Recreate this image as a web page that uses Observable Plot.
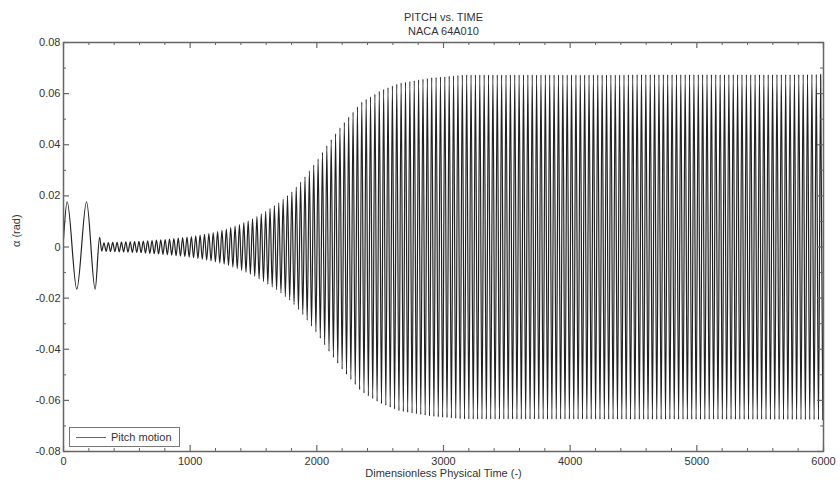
<!DOCTYPE html>
<html>
<head>
<meta charset="utf-8">
<script src="https://cdn.jsdelivr.net/npm/d3@7"></script>
<script src="https://cdn.jsdelivr.net/npm/@observablehq/plot@0.6"></script>
<style>
  body { margin: 0; background: #fff; }
  #chart { position: relative; width: 840px; height: 487px; font-family: "Liberation Sans", Arial, sans-serif; }
  #legend {
    position: absolute; left: 69px; top: 427px; width: 111px; height: 20px;
    box-sizing: border-box; border: 1px solid #777; background: #fff;
    display: flex; align-items: center; font-size: 11px; color: #333;
  }
  #legend .swatch { width: 30px; height: 0; border-top: 1px solid #666; margin: 0 5px 0 6px; }
</style>
</head>
<body>
<div id="chart">
  <div id="legend"><span class="swatch"></span>Pitch motion</div>
</div>
<script>
// Axis ticks
const xTicks = [0, 1000, 2000, 3000, 4000, 5000, 6000];
const yTicks = [-0.08, -0.06, -0.04, -0.02, 0, 0.02, 0.04, 0.06, 0.08];

// Forced pitch pulse at the start of the run: start, extremes, release
const forcedTime  = [0, 29, 105, 182, 250, 285];
const forcedPitch = [0.003, 0.0177, -0.0165, 0.0177, -0.0165, 0.0038];

// Free response after release: amplitude envelope of α (rad) and oscillation period
const envTime = [285, 400, 600, 800, 1000, 1100, 1200, 1300, 1400, 1500, 1600, 1700,
                 1800, 1900, 2000, 2100, 2200, 2350, 2500, 2650, 2900, 3150, 6000];
const envAmp  = [0.0016, 0.0018, 0.0022, 0.0029, 0.0040, 0.0048, 0.0058, 0.0072, 0.0090,
                 0.0112, 0.0141, 0.0173, 0.0214, 0.0270, 0.0337, 0.0411, 0.0478, 0.0565,
                 0.0611, 0.0641, 0.0662, 0.0673, 0.0675];
const period = 34.5;

// Pitch history: forced pulse, then alternating extremes of the free oscillation
const amplitude = d3.scaleLinear(envTime, envAmp);
const pitch = forcedTime.map((t, i) => ({t, alpha: forcedPitch[i]}));
const release = forcedTime[forcedTime.length - 1];
for (let k = 1; release + k * period / 2 <= 6000; k++) {
  const t = release + k * period / 2;
  pitch.push({t, alpha: (k % 2 ? -1 : 1) * amplitude(t)});
}

const W = 840, H = 487;
const mL = 63, mR = 17, mT = 42, mB = 36;
const fw = W - mL - mR, fh = H - mT - mB;
const xMinor = d3.range(0, 6001, 200).filter(v => v % 1000 !== 0);
const yMinor = [-0.07, -0.05, -0.03, -0.01, 0.01, 0.03, 0.05, 0.07];
const ink = "#666";

const plot = Plot.plot({
  width: W, height: H,
  marginLeft: mL, marginRight: mR, marginTop: mT, marginBottom: mB,
  style: {background: "#fff", fontFamily: "'Liberation Sans', Arial, sans-serif", fontSize: "11px", color: "#333"},
  x: {domain: [0, 6000], axis: null},
  y: {domain: [-0.08, 0.08], axis: null},
  marks: [
    Plot.line(pitch, {x: "t", y: "alpha", curve: "monotone-x", stroke: "#222", strokeWidth: 1.2}),
    // inward ticks on all four sides
    Plot.ruleX(xTicks, {insetTop: fh - 6, stroke: ink, strokeWidth: 1.2}),
    Plot.ruleX(xTicks, {insetBottom: fh - 6, stroke: ink, strokeWidth: 1.2}),
    Plot.ruleX(xMinor, {insetTop: fh - 3, stroke: ink}),
    Plot.ruleX(xMinor, {insetBottom: fh - 3, stroke: ink}),
    Plot.ruleY(yTicks, {insetRight: fw - 6, stroke: ink, strokeWidth: 1.2}),
    Plot.ruleY(yTicks, {insetLeft: fw - 6, stroke: ink, strokeWidth: 1.2}),
    Plot.ruleY(yMinor, {insetRight: fw - 3, stroke: ink}),
    Plot.ruleY(yMinor, {insetLeft: fw - 3, stroke: ink}),
    Plot.frame({stroke: ink, strokeWidth: 1.5}),
    Plot.axisX(xTicks, {tickSize: 0, tickPadding: 6, label: null, tickFormat: d => String(d), fill: "#333"}),
    Plot.axisY(yTicks, {tickSize: 0, tickPadding: 3, label: null, tickFormat: d => d === 0 ? "0" : d.toFixed(2), fill: "#333"}),
    // titles and axis labels
    Plot.text(["PITCH vs. TIME"], {frameAnchor: "top", dy: -29, fill: "#333"}),
    Plot.text(["NACA 64A010"], {frameAnchor: "top", dy: -15, fill: "#333"}),
    Plot.text(["Dimensionless Physical Time (-)"], {frameAnchor: "bottom", dy: 25, fill: "#333"}),
    Plot.text(["α (rad)"], {frameAnchor: "left", dx: -47, rotate: -90, fill: "#333"})
  ]
});

document.getElementById("chart").prepend(plot);
</script>
</body>
</html>
